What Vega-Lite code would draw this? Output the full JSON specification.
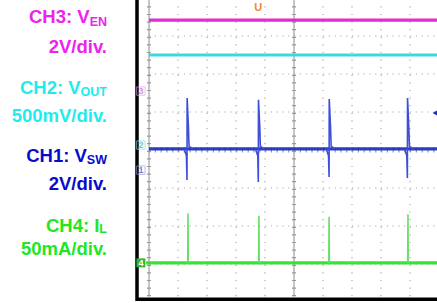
{
  "$schema": "https://vega.github.io/schema/vega-lite/v6.json",
  "width": 437,
  "height": 303,
  "padding": 0,
  "autosize": {"type": "none"},
  "background": "white",
  "config": {"view": {"stroke": null}, "axis": {"disable": true}, "legend": {"disable": true}},
  "datasets": {
    "traces": [
      {"ch": "CH3", "t": 0, "v": 3.42}, {"ch": "CH3", "t": 10.3, "v": 3.42},
      {"ch": "CH2", "t": 0, "v": 2.5}, {"ch": "CH2", "t": 10.3, "v": 2.5},
      {"ch": "CH1", "t": 0, "v": 0.03}, {"ch": "CH1", "t": 10.3, "v": 0.03},
      {"ch": "CH4", "t": -0.1, "v": -2.97}, {"ch": "CH4", "t": 10.3, "v": -2.97}
    ],
    "spikes": [
      {"ch": "CH1", "id": "b1", "i": 0, "t": 1.21, "v": 0.03}, {"ch": "CH1", "id": "b1", "i": 1, "t": 1.29, "v": -0.15}, {"ch": "CH1", "id": "b1", "i": 2, "t": 1.31, "v": -0.79}, {"ch": "CH1", "id": "b1", "i": 3, "t": 1.315, "v": 1.37}, {"ch": "CH1", "id": "b1", "i": 4, "t": 1.36, "v": 0.6}, {"ch": "CH1", "id": "b1", "i": 5, "t": 1.38, "v": 0.1}, {"ch": "CH1", "id": "b1", "i": 6, "t": 1.5, "v": 0.03},
      {"ch": "CH1", "id": "b2", "i": 0, "t": 3.67, "v": 0.03}, {"ch": "CH1", "id": "b2", "i": 1, "t": 3.75, "v": -0.15}, {"ch": "CH1", "id": "b2", "i": 2, "t": 3.77, "v": -0.84}, {"ch": "CH1", "id": "b2", "i": 3, "t": 3.775, "v": 1.32}, {"ch": "CH1", "id": "b2", "i": 4, "t": 3.82, "v": 0.6}, {"ch": "CH1", "id": "b2", "i": 5, "t": 3.84, "v": 0.1}, {"ch": "CH1", "id": "b2", "i": 6, "t": 3.96, "v": 0.03},
      {"ch": "CH1", "id": "b3", "i": 0, "t": 6.11, "v": 0.03}, {"ch": "CH1", "id": "b3", "i": 1, "t": 6.19, "v": -0.15}, {"ch": "CH1", "id": "b3", "i": 2, "t": 6.21, "v": -0.71}, {"ch": "CH1", "id": "b3", "i": 3, "t": 6.215, "v": 1.34}, {"ch": "CH1", "id": "b3", "i": 4, "t": 6.26, "v": 0.6}, {"ch": "CH1", "id": "b3", "i": 5, "t": 6.28, "v": 0.1}, {"ch": "CH1", "id": "b3", "i": 6, "t": 6.4, "v": 0.03},
      {"ch": "CH1", "id": "b4", "i": 0, "t": 8.81, "v": 0.03}, {"ch": "CH1", "id": "b4", "i": 1, "t": 8.89, "v": -0.15}, {"ch": "CH1", "id": "b4", "i": 2, "t": 8.91, "v": -0.74}, {"ch": "CH1", "id": "b4", "i": 3, "t": 8.915, "v": 1.37}, {"ch": "CH1", "id": "b4", "i": 4, "t": 8.96, "v": 0.6}, {"ch": "CH1", "id": "b4", "i": 5, "t": 8.98, "v": 0.1}, {"ch": "CH1", "id": "b4", "i": 6, "t": 9.1, "v": 0.03},
      {"ch": "CH4", "id": "g1", "i": 0, "t": 1.335, "v": -2.97}, {"ch": "CH4", "id": "g1", "i": 1, "t": 1.345, "v": -1.67}, {"ch": "CH4", "id": "g1", "i": 2, "t": 1.355, "v": -2.97},
      {"ch": "CH4", "id": "g2", "i": 0, "t": 3.78, "v": -2.97}, {"ch": "CH4", "id": "g2", "i": 1, "t": 3.79, "v": -1.73}, {"ch": "CH4", "id": "g2", "i": 2, "t": 3.8, "v": -2.97},
      {"ch": "CH4", "id": "g3", "i": 0, "t": 6.2, "v": -2.97}, {"ch": "CH4", "id": "g3", "i": 1, "t": 6.21, "v": -1.755}, {"ch": "CH4", "id": "g3", "i": 2, "t": 6.22, "v": -2.97},
      {"ch": "CH4", "id": "g4", "i": 0, "t": 8.92, "v": -2.97}, {"ch": "CH4", "id": "g4", "i": 1, "t": 8.93, "v": -1.69}, {"ch": "CH4", "id": "g4", "i": 2, "t": 8.94, "v": -2.97}
    ],
    "labels": [
      {"ch": "CH3", "kind": "main", "txt": "CH3: V", "t": -2.048, "v": 3.342},
      {"ch": "CH3", "kind": "main", "txt": "2V/div.", "t": -1.448, "v": 2.545},
      {"ch": "CH2", "kind": "main", "txt": "CH2: V", "t": -2.359, "v": 1.466},
      {"ch": "CH2", "kind": "main", "txt": "500mV/div.", "t": -1.448, "v": 0.746},
      {"ch": "CH1", "kind": "main", "txt": "CH1: V", "t": -2.141, "v": -0.324},
      {"ch": "CH1", "kind": "main", "txt": "2V/div.", "t": -1.448, "v": -1.053},
      {"ch": "CH4", "kind": "main", "txt": "CH4: I", "t": -1.71, "v": -2.166},
      {"ch": "CH4", "kind": "main", "txt": "50mA/div.", "t": -1.448, "v": -2.763},
      {"ch": "CH3", "kind": "sub", "txt": "EN", "t": -1.448, "v": 3.271},
      {"ch": "CH2", "kind": "sub", "txt": "OUT", "t": -1.448, "v": 1.429},
      {"ch": "CH1", "kind": "sub", "txt": "SW", "t": -1.448, "v": -0.368},
      {"ch": "CH4", "kind": "sub", "txt": "L", "t": -1.448, "v": -2.192}
    ],
    "markers": [
      {"ch": "CH3", "m": "3", "t": -0.28, "v": 1.55},
      {"ch": "CH2", "m": "2", "t": -0.28, "v": 0.13},
      {"ch": "CH1", "m": "1", "t": -0.28, "v": -0.53},
      {"ch": "CH4", "m": "4", "t": -0.28, "v": -2.97}
    ]
  },
  "encoding": {
    "x": {"type": "quantitative", "axis": null, "scale": {"domain": [-5.138, 9.931], "nice": false, "zero": false}},
    "y": {"type": "quantitative", "axis": null, "scale": {"domain": [-4.026, 3.947], "nice": false, "zero": false}}
  },
  "layer": [
    {
      "data": {"values": [{"x1": -0.414, "x2": 10.6, "y1": -3.93, "y2": 4.6}]},
      "mark": {"type": "rect", "fill": "white", "stroke": "black", "strokeWidth": 3.5},
      "encoding": {"x": {"field": "x1", "type": "quantitative", "axis": null}, "x2": {"field": "x2"}, "y": {"field": "y1", "type": "quantitative", "axis": null}, "y2": {"field": "y2"}}
    },
    {
      "data": {"values": [{"t": 1}, {"t": 2}, {"t": 3}, {"t": 4}, {"t": 6}, {"t": 7}, {"t": 8}, {"t": 9}]},
      "mark": {"type": "rule", "color": "#a8a8a8", "strokeWidth": 1.2, "strokeDash": [1.2, 6.4]},
      "encoding": {"x": {"field": "t", "type": "quantitative", "axis": null}, "y": {"datum": -3.85}, "y2": {"datum": 4.1}}
    },
    {
      "data": {"values": [{"v": -3}, {"v": -2}, {"v": -1}, {"v": 1}, {"v": 2}, {"v": 3}]},
      "mark": {"type": "rule", "color": "#a8a8a8", "strokeWidth": 1.2, "strokeDash": [1.2, 4.6]},
      "encoding": {"y": {"field": "v", "type": "quantitative", "axis": null}, "x": {"datum": 0}, "x2": {"datum": 10.5}}
    },
    {
      "data": {"values": [{"t": 0}, {"t": 5}]},
      "mark": {"type": "rule", "color": "#8c8c8c", "strokeWidth": 1},
      "encoding": {"x": {"field": "t", "type": "quantitative", "axis": null}, "y": {"datum": -3.85}, "y2": {"datum": 4.1}}
    },
    {
      "data": {"values": [{"t": 0}, {"t": 5}]},
      "mark": {"type": "rule", "color": "#999999", "strokeWidth": 4, "strokeDash": [1.2, 6.4]},
      "encoding": {"x": {"field": "t", "type": "quantitative", "axis": null}, "y": {"datum": -3.85}, "y2": {"datum": 4.1}}
    },
    {
      "data": {"values": [{"v": 0}]},
      "mark": {"type": "rule", "color": "#999999", "strokeWidth": 5, "strokeDash": [1.2, 4.6]},
      "encoding": {"y": {"field": "v", "type": "quantitative", "axis": null}, "x": {"datum": 0}, "x2": {"datum": 10.5}}
    },
    {
      "data": {"name": "traces"},
      "mark": {"type": "line", "strokeWidth": 3.2, "opacity": 0.95},
      "encoding": {
        "x": {"field": "t", "type": "quantitative", "axis": null},
        "y": {"field": "v", "type": "quantitative", "axis": null},
        "detail": {"field": "ch"},
        "color": {"field": "ch", "type": "nominal", "legend": null, "scale": {"domain": ["CH1", "CH2", "CH3", "CH4"], "range": ["#2233bb", "#2ed6e0", "#e020d6", "#33dd33"]}}
      }
    },
    {
      "data": {"name": "spikes"},
      "mark": {"type": "line", "strokeWidth": 1.6},
      "encoding": {
        "x": {"field": "t", "type": "quantitative", "axis": null},
        "y": {"field": "v", "type": "quantitative", "axis": null},
        "order": {"field": "i", "type": "quantitative"},
        "detail": {"field": "id"},
        "color": {"field": "ch", "type": "nominal", "legend": null, "scale": {"domain": ["CH1", "CH2", "CH3", "CH4"], "range": ["#3d4fd8", "#2ed6e0", "#e020d6", "#66e066"]}}
      }
    },
    {
      "data": {"name": "markers"},
      "transform": [{"filter": "datum.ch !== 'CH4'"}],
      "mark": {"type": "point", "shape": "square", "size": 70, "filled": false, "strokeWidth": 1},
      "encoding": {
        "x": {"field": "t", "type": "quantitative", "axis": null},
        "y": {"field": "v", "type": "quantitative", "axis": null},
        "color": {"field": "ch", "type": "nominal", "legend": null, "scale": {"domain": ["CH1", "CH2", "CH3", "CH4"], "range": ["#9a9ad8", "#88dede", "#e2a6e2", "#33bb33"]}}
      }
    },
    {
      "data": {"name": "markers"},
      "transform": [{"filter": "datum.ch === 'CH4'"}],
      "mark": {"type": "point", "shape": "square", "size": 80, "filled": true, "color": "#2fb52f", "opacity": 1},
      "encoding": {"x": {"field": "t", "type": "quantitative", "axis": null}, "y": {"field": "v", "type": "quantitative", "axis": null}}
    },
    {
      "data": {"name": "markers"},
      "mark": {"type": "text", "fontSize": 9, "fontWeight": "bold", "font": "Liberation Sans", "baseline": "middle", "align": "center"},
      "encoding": {
        "x": {"field": "t", "type": "quantitative", "axis": null},
        "y": {"field": "v", "type": "quantitative", "axis": null},
        "text": {"field": "m"},
        "color": {"field": "ch", "type": "nominal", "legend": null, "scale": {"domain": ["CH1", "CH2", "CH3", "CH4"], "range": ["#8080c8", "#66cccc", "#d890d8", "#ffffff"]}}
      }
    },
    {
      "data": {"values": [{"t": 3.77, "v": 3.74, "s": "U"}]},
      "mark": {"type": "text", "fontSize": 11, "fontWeight": "bold", "font": "Liberation Sans", "baseline": "middle", "align": "center", "color": "#f08a2a"},
      "encoding": {"x": {"field": "t", "type": "quantitative", "axis": null}, "y": {"field": "v", "type": "quantitative", "axis": null}, "text": {"field": "s"}}
    },
    {
      "data": {"values": [{"t": 9.88, "v": 0.974}]},
      "mark": {"type": "point", "shape": "triangle-left", "size": 45, "filled": true, "color": "#1f2fb8", "opacity": 1},
      "encoding": {"x": {"field": "t", "type": "quantitative", "axis": null}, "y": {"field": "v", "type": "quantitative", "axis": null}}
    },
    {
      "data": {"name": "labels"},
      "transform": [{"filter": "datum.kind === 'main'"}],
      "mark": {"type": "text", "fontSize": 18.5, "fontWeight": "bold", "font": "Liberation Sans", "baseline": "alphabetic", "align": "right"},
      "encoding": {
        "x": {"field": "t", "type": "quantitative", "axis": null},
        "y": {"field": "v", "type": "quantitative", "axis": null},
        "text": {"field": "txt"},
        "color": {"field": "ch", "type": "nominal", "legend": null, "scale": {"domain": ["CH1", "CH2", "CH3", "CH4"], "range": ["#0a0acc", "#1eecec", "#ee22ee", "#22e622"]}}
      }
    },
    {
      "data": {"name": "labels"},
      "transform": [{"filter": "datum.kind === 'sub'"}],
      "mark": {"type": "text", "fontSize": 12.5, "fontWeight": "bold", "font": "Liberation Sans", "baseline": "alphabetic", "align": "right"},
      "encoding": {
        "x": {"field": "t", "type": "quantitative", "axis": null},
        "y": {"field": "v", "type": "quantitative", "axis": null},
        "text": {"field": "txt"},
        "color": {"field": "ch", "type": "nominal", "legend": null, "scale": {"domain": ["CH1", "CH2", "CH3", "CH4"], "range": ["#0a0acc", "#1eecec", "#ee22ee", "#22e622"]}}
      }
    }
  ],
  "resolve": {"scale": {"color": "independent"}}
}
